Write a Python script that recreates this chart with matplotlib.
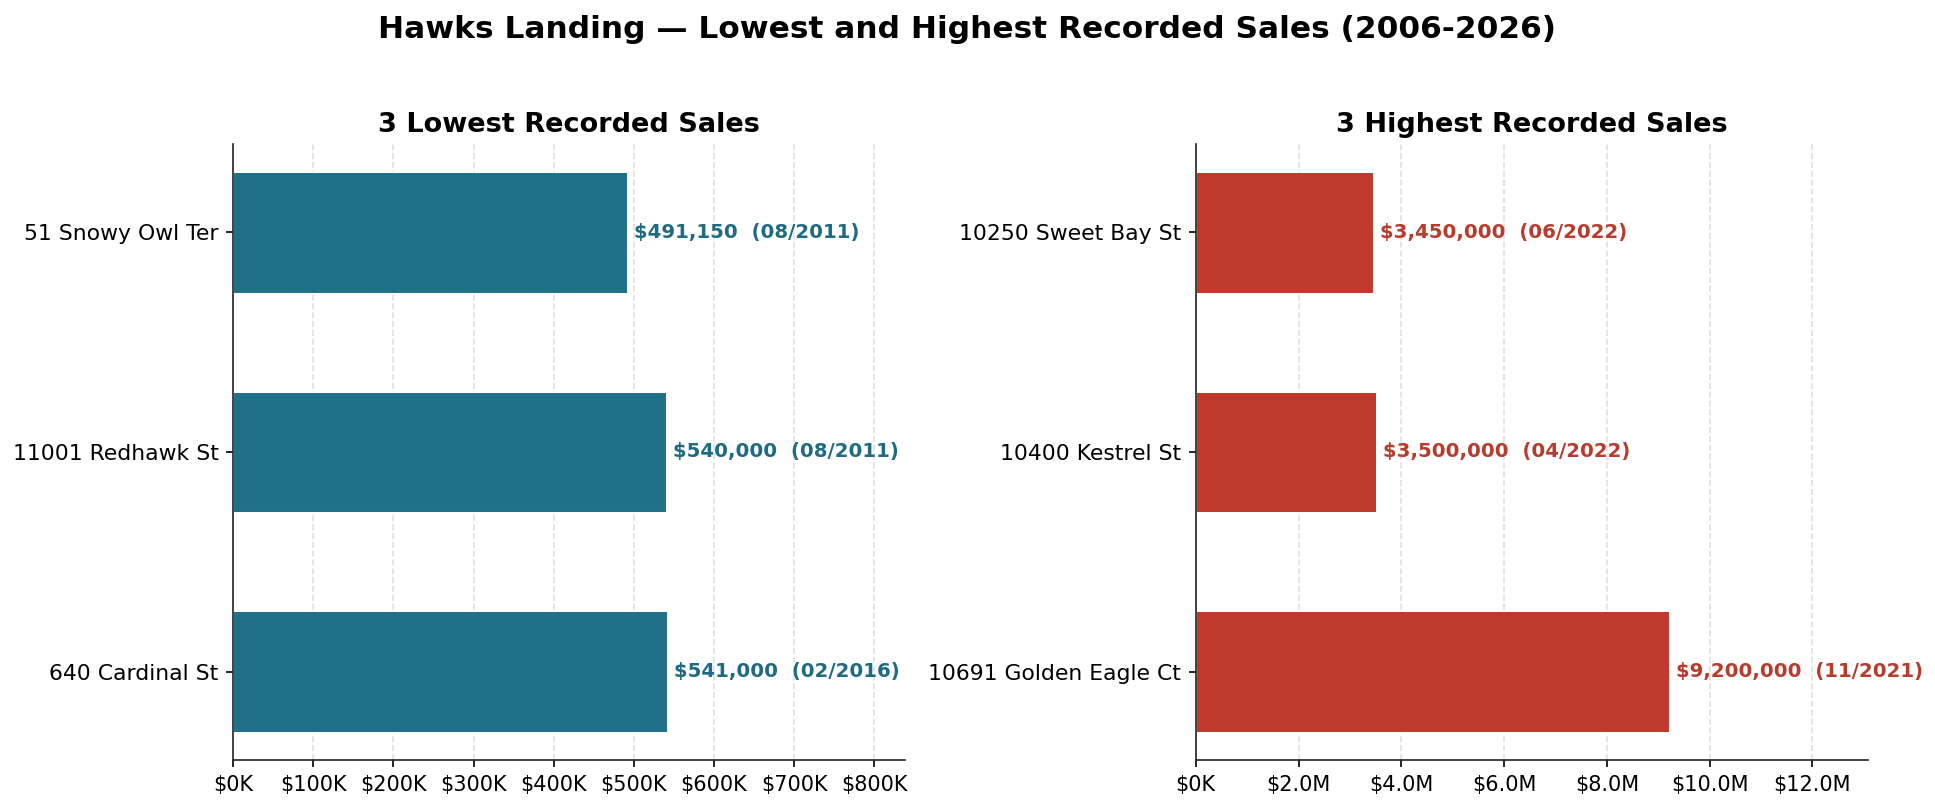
import matplotlib
matplotlib.use("Agg")
import matplotlib.pyplot as plt
from matplotlib.ticker import FuncFormatter, MultipleLocator

low_addresses = ["51 Snowy Owl Ter", "11001 Redhawk St", "640 Cardinal St"]
low_prices = [491150, 540000, 541000]
low_dates = ["08/2011", "08/2011", "02/2016"]

high_addresses = ["10250 Sweet Bay St", "10400 Kestrel St", "10691 Golden Eagle Ct"]
high_prices = [3450000, 3500000, 9200000]
high_dates = ["06/2022", "04/2022", "11/2021"]

LOW_COLOR = "#21708A"
LOW_TEXT = "#1F6B84"
HIGH_COLOR = "#C0392B"
HIGH_TEXT = "#B73C2E"


def money_fmt(x, pos):
    if x >= 1e6:
        return f"${x/1e6:.1f}M"
    return f"${x/1e3:.0f}K"


fig, axes = plt.subplots(1, 2, figsize=(12.9, 809 / 150), dpi=150)
fig.subplots_adjust(left=0.1204, right=0.9654, top=0.822, bottom=0.0606, wspace=0.432)

panels = [
    (axes[0], low_addresses, low_prices, low_dates, LOW_COLOR, LOW_TEXT, "3 Lowest Recorded Sales", 1.55, 100000),
    (axes[1], high_addresses, high_prices, high_dates, HIGH_COLOR, HIGH_TEXT, "3 Highest Recorded Sales", 1.422, 2000000),
]

for ax, names, vals, dates, color, tcolor, title, scale, step in panels:
    ypos = list(range(len(names)))
    ax.barh(ypos, vals, height=0.55, color=color, edgecolor="white", linewidth=0.5, zorder=2)
    ax.set_yticks(ypos)
    ax.set_yticklabels(names, fontsize=10.5)
    ax.invert_yaxis()
    ax.set_xlim(0, max(vals) * scale)
    ax.xaxis.set_major_locator(MultipleLocator(step))
    ax.xaxis.set_major_formatter(FuncFormatter(money_fmt))
    ax.tick_params(axis="x", labelsize=10)
    for y, v, d in zip(ypos, vals, dates):
        ax.annotate(f"${v:,.0f}  ({d})", xy=(v, y), xytext=(3.5, 0), textcoords="offset points",
                    ha="left", va="center", fontsize=9.5, fontweight="bold", color=tcolor, zorder=3)
    ax.set_title(title, fontsize=13, fontweight="bold", pad=6)
    ax.grid(axis="x", linestyle="--", color="#cccccc", alpha=0.6, linewidth=0.8, zorder=0)
    ax.set_axisbelow(True)
    for s in ("top", "right"):
        ax.spines[s].set_visible(False)
    for s in ("left", "bottom"):
        ax.spines[s].set_color("#222222")

fig.suptitle("Hawks Landing \u2014 Lowest and Highest Recorded Sales (2006-2026)",
             fontsize=15, fontweight="bold", y=0.982)

fig.savefig("out.png", dpi=150)
